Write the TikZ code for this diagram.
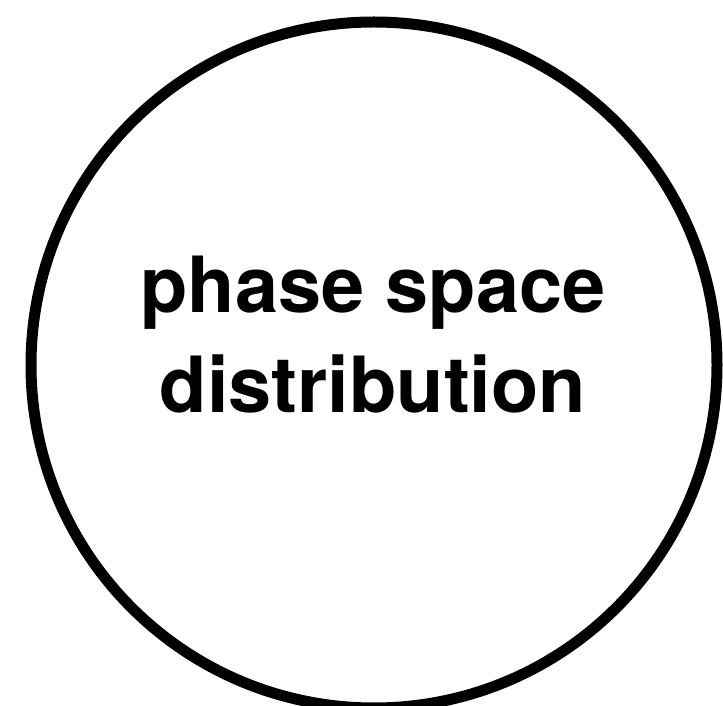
\documentclass[tikz,border=0pt]{standalone}
\usepackage{fontspec}
\setsansfont{TeX Gyre Heros}

\begin{document}
\begin{tikzpicture}[x=1pt, y=1pt,
    bubble/.style={circle, draw, line width=11pt, minimum size=686pt, inner sep=0pt},
    caption/.style={anchor=base, inner sep=0pt, font=\fontsize{77.5}{100}\selectfont\sffamily\bfseries}]
% Frame
\useasboundingbox (0,0) rectangle (723,705);
% Circle
\node[bubble] (dist) at (374,340) {};
% Labels
\node[caption] (top) at (373,392) {phase space};
\node[caption] (bot) at (373,292) {distribution};
\end{tikzpicture}
\end{document}
